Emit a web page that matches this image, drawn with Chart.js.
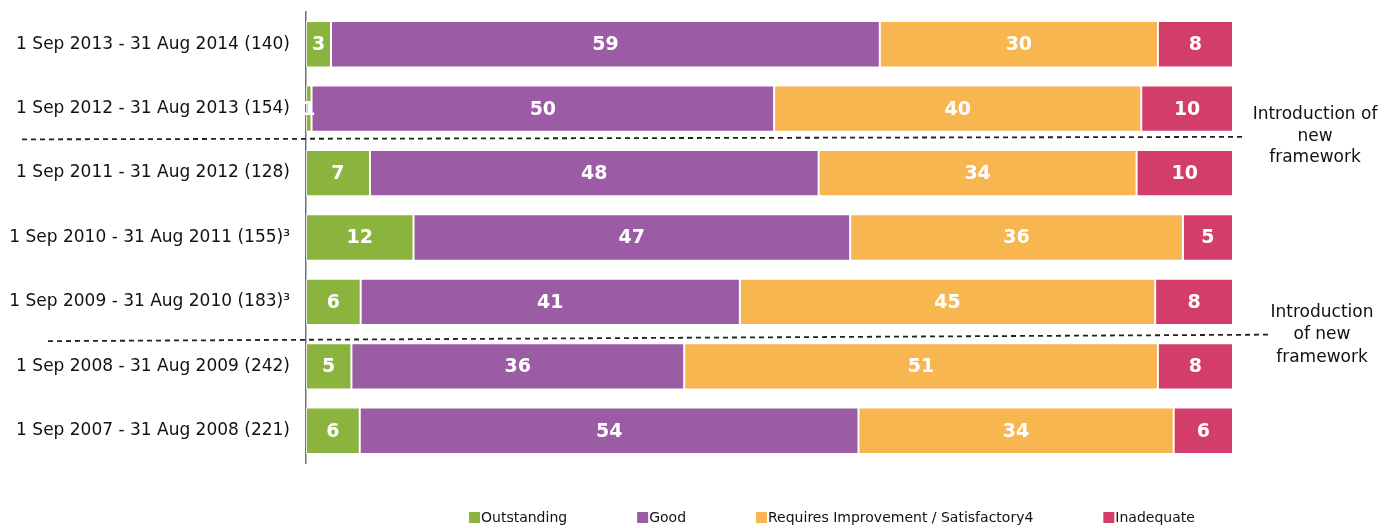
<!DOCTYPE html>
<html>
<head>
<meta charset="utf-8">
<script src="https://cdn.jsdelivr.net/npm/chart.js@4.4.0/dist/chart.umd.min.js"></script>
<style>
  html, body { margin: 0; padding: 0; background: #ffffff; }
  #wrap { width: 1395px; height: 528px; position: relative; }
</style>
</head>
<body>
<div id="wrap"><canvas id="c" width="1395" height="528"></canvas></div>
<script>
const categories = [
  "1 Sep 2013 - 31 Aug 2014 (140)",
  "1 Sep 2012 - 31 Aug 2013 (154)",
  "1 Sep 2011 - 31 Aug 2012 (128)",
  "1 Sep 2010 - 31 Aug 2011 (155)\u00B3",
  "1 Sep 2009 - 31 Aug 2010 (183)\u00B3",
  "1 Sep 2008 - 31 Aug 2009 (242)",
  "1 Sep 2007 - 31 Aug 2008 (221)"
];
const seriesNames = ["Outstanding", "Good", "Requires Improvement / Satisfactory4", "Inadequate"];
const outstanding = [2.7, 0.6, 6.9, 11.6, 5.9, 4.9, 5.8];
const good        = [59.2, 49.9, 48.4, 47.1, 40.9, 35.9, 53.8];
const requiresImp = [30.0, 39.6, 34.3, 35.9, 44.8, 51.1, 34.0];
const inadequate  = [8.1, 9.9, 10.4, 5.4, 8.4, 8.1, 6.4];
const annotationText = [
  ["Introduction of", "new", "framework"],
  ["Introduction", "of new", "framework"]
];

const colors = ["#8BB43F", "#9B5BA5", "#F8B650", "#D33D6A"];
const FONT = "'DejaVu Sans', sans-serif";

const labelPlugin = {
  id: 'labels',
  afterDatasetsDraw(chart) {
    const ctx = chart.ctx;
    ctx.save();
    ctx.fillStyle = '#ffffff';
    ctx.font = "bold 19px " + FONT;
    ctx.textAlign = 'center';
    ctx.textBaseline = 'middle';
    chart.data.datasets.forEach((ds, i) => {
      const meta = chart.getDatasetMeta(i);
      meta.data.forEach((bar, j) => {
        const p = bar.getProps(['x', 'y', 'base'], true);
        ctx.fillText(String(Math.round(ds.data[j])), (p.x + p.base) / 2, p.y + 1);
      });
    });
    ctx.restore();
  },
  afterDraw(chart) {
    const ctx = chart.ctx;
    const y = chart.scales.y;
    const b1 = (y.getPixelForValue(1) + y.getPixelForValue(2)) / 2;
    const b2 = (y.getPixelForValue(4) + y.getPixelForValue(5)) / 2;
    ctx.save();
    ctx.strokeStyle = '#222222';
    ctx.lineWidth = 1.8;
    ctx.setLineDash([5, 4]);
    ctx.beginPath();
    ctx.moveTo(22, b1 - 1.5); ctx.lineTo(1243, b1 - 4);
    ctx.moveTo(48, b2 + 7); ctx.lineTo(1270, b2 + 0.5);
    ctx.stroke();
    ctx.setLineDash([]);
    ctx.fillStyle = '#111111';
    ctx.font = "17px " + FONT;
    ctx.textAlign = 'center';
    ctx.textBaseline = 'middle';
    annotationText[0].forEach((t, k) => ctx.fillText(t, 1315, b1 - 26 + k * 21.5));
    annotationText[1].forEach((t, k) => ctx.fillText(t, 1322, b2 - 22 + k * 22.5));
    // legend
    ctx.font = "14px " + FONT;
    ctx.textAlign = 'left';
    let x = 469;
    const ly = 518;
    seriesNames.forEach((n, k) => {
      ctx.fillStyle = colors[k];
      ctx.fillRect(x, ly - 6, 11, 11);
      ctx.fillStyle = '#111111';
      ctx.fillText(n, x + 12, ly);
      x += 12 + ctx.measureText(n).width + 70;
    });
    ctx.restore();
  }
};

const datasets = [outstanding, good, requiresImp, inadequate].map((d, i) => ({
  label: seriesNames[i],
  data: d,
  backgroundColor: colors[i],
  borderColor: 'rgba(255,255,255,0.7)',
  borderWidth: 1,
  borderSkipped: false,
  barPercentage: 0.72,
  categoryPercentage: 1.0
}));

new Chart(document.getElementById('c'), {
  type: 'bar',
  data: { labels: categories, datasets },
  options: {
    indexAxis: 'y',
    responsive: false,
    animation: false,
    layout: { padding: { top: 12, right: 162, bottom: 65, left: 0 } },
    plugins: { legend: { display: false }, tooltip: { enabled: false } },
    scales: {
      x: { stacked: true, min: 0, max: 100, display: false },
      y: {
        stacked: true,
        grid: { display: false },
        border: { display: true, color: '#707070', width: 1.5 },
        ticks: { color: '#111111', font: { family: FONT, size: 17 }, padding: 8 },
        afterFit(scale) { scale.width = 306; scale.paddingTop = 0; scale.paddingBottom = 0; }
      }
    }
  },
  plugins: [labelPlugin]
});
</script>
</body>
</html>
